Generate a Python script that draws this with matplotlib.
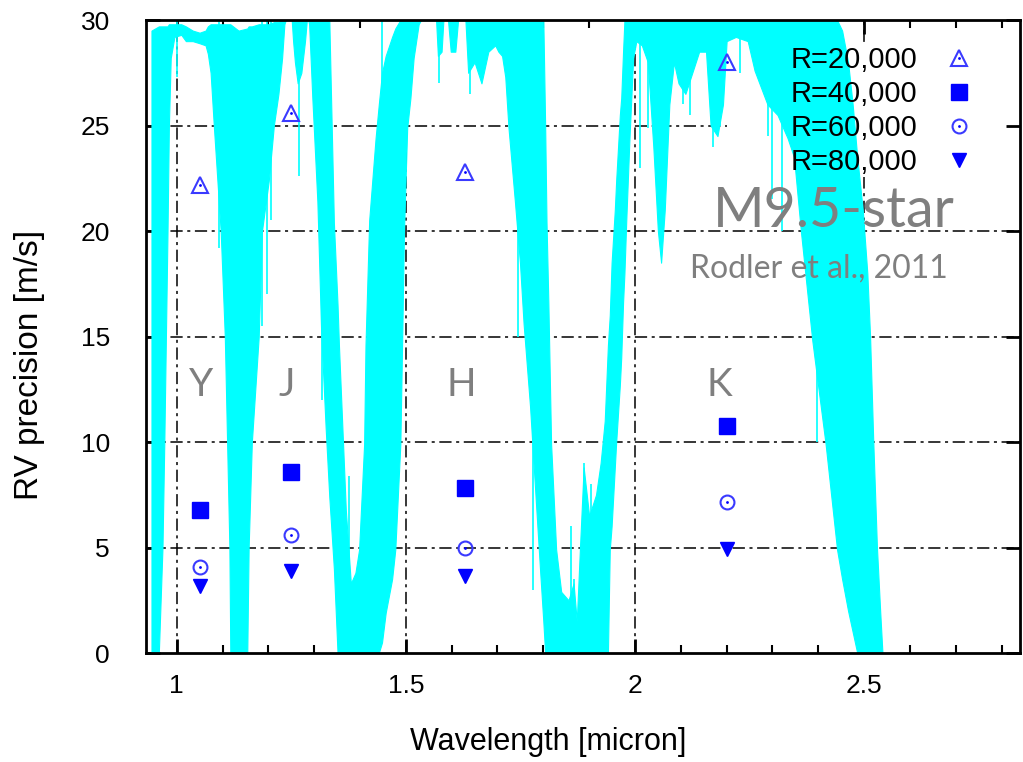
import numpy as np
import matplotlib
matplotlib.use("Agg")
import matplotlib.pyplot as plt
from matplotlib.patches import Rectangle
from matplotlib.ticker import MultipleLocator

plt.rcParams["font.family"] = ["Liberation Sans", "DejaVu Sans"]

# ---------------- datos ----------------
# bandas fotometricas y precision RV [m/s] para cada resolucion
banda_x = [1.05, 1.25, 1.63, 2.20]
rv_r20 = [22.2, 25.6, 22.8, 28.0]
rv_r40 = [6.8, 8.6, 7.8, 10.75]
rv_r60 = [4.1, 5.6, 5.0, 7.15]
rv_r80 = [3.2, 3.9, 3.65, 4.95]

bandas = ["Y", "J", "H", "K"]
bandas_pos = [1.054, 1.239, 1.622, 2.185]

# espectro telurico (escalado a 0-30): envolvente inferior / superior
tel_wl = [0.945, 0.961, 0.969, 0.973, 0.980, 0.983, 0.987, 0.995, 1.010, 1.020,
          1.035, 1.050, 1.063, 1.068, 1.074, 1.081, 1.090, 1.096, 1.105, 1.110,
          1.115, 1.117, 1.135, 1.154, 1.157, 1.164, 1.179, 1.186, 1.201, 1.212,
          1.222, 1.230, 1.235, 1.238, 1.251, 1.254, 1.258, 1.264, 1.272, 1.280,
          1.284, 1.287, 1.289, 1.296, 1.307, 1.315, 1.325, 1.333, 1.343, 1.351,
          1.354, 1.369, 1.380, 1.390, 1.398, 1.409, 1.412, 1.420, 1.434, 1.441,
          1.448, 1.456, 1.470, 1.477, 1.488, 1.492, 1.496, 1.503, 1.510, 1.517,
          1.528, 1.533, 1.566, 1.570, 1.578, 1.582, 1.592, 1.598, 1.608, 1.614,
          1.630, 1.636, 1.650, 1.665, 1.680, 1.695, 1.702, 1.710, 1.717, 1.724,
          1.738, 1.749, 1.757, 1.771, 1.782, 1.793, 1.800, 1.804, 1.807, 1.811,
          1.817, 1.828, 1.839, 1.855, 1.866, 1.873, 1.880, 1.888, 1.900, 1.915,
          1.925, 1.934, 1.941, 1.945, 1.949, 1.956, 1.959, 1.967, 1.970, 1.974,
          1.977, 1.981, 1.988, 1.996, 2.003, 2.015, 2.028, 2.040, 2.050, 2.057,
          2.065, 2.075, 2.085, 2.095, 2.110, 2.125, 2.140, 2.155, 2.165, 2.180,
          2.192, 2.200, 2.220, 2.246, 2.261, 2.289, 2.311, 2.333, 2.347, 2.362,
          2.387, 2.416, 2.441, 2.452, 2.465, 2.475, 2.485, 2.497, 2.507, 2.513,
          2.520, 2.528, 2.535, 2.540]
tel_lo = [0.0, 0.0, 5.0, 10.0, 20.0, 25.0, 28.2, 29.2, 29.3, 29.0,
          29.0, 28.9, 28.8, 28.4, 27.5, 25.0, 22.0, 20.0, 15.0, 10.0,
          5.0, 0.0, 0.0, 0.0, 5.0, 10.0, 15.0, 20.0, 22.4, 25.0,
          26.5, 28.2, 29.8, 30.0, 30.0, 29.0, 28.0, 27.0, 27.5, 29.0,
          30.0, 30.0, 29.8, 26.3, 21.4, 15.4, 10.7, 7.4, 4.0, 0.0,
          0.0, 0.0, 0.0, 0.0, 0.0, 0.0, 0.0, 0.0, 0.0, 0.0,
          0.5, 1.9, 3.5, 4.9, 9.9, 14.8, 20.0, 24.9, 26.3, 28.2,
          29.8, 30.0, 30.0, 28.3, 28.5, 30.0, 30.0, 28.5, 28.5, 30.0,
          30.0, 27.5, 28.0, 27.0, 28.5, 28.8, 28.5, 28.3, 27.3, 24.9,
          21.4, 18.5, 15.6, 11.7, 7.8, 3.9, 1.5, 0.0, 0.0, 0.0,
          0.0, 0.0, 0.0, 0.0, 0.0, 0.0, 0.0, 0.0, 0.0, 0.0,
          0.0, 0.0, 0.0, 4.9, 6.0, 8.8, 10.0, 12.7, 14.0, 16.6,
          18.0, 20.5, 24.4, 28.2, 29.0, 28.8, 28.0, 24.0, 20.0, 18.5,
          21.0, 26.0, 28.0, 27.0, 26.5, 27.5, 28.5, 28.5, 25.0, 24.5,
          26.0, 29.0, 29.2, 29.0, 27.6, 26.0, 25.5, 24.4, 23.5, 20.0,
          14.8, 9.9, 4.9, 3.5, 2.0, 1.0, 0.0, 0.0, 0.0, 0.0,
          0.0, 0.0, 0.0, 0.0]
tel_hi = [29.5, 29.7, 29.7, 29.7, 29.7, 29.8, 29.8, 29.8, 29.8, 29.7,
          29.5, 29.4, 29.5, 29.7, 29.8, 29.8, 29.8, 29.8, 29.8, 29.8,
          29.8, 29.8, 29.5, 29.6, 29.7, 29.7, 29.8, 29.8, 29.8, 29.9,
          29.9, 30.0, 30.0, 30.0, 30.0, 30.0, 30.0, 30.0, 30.0, 30.0,
          30.0, 30.0, 30.0, 30.0, 30.0, 30.0, 30.0, 30.0, 20.4, 16.5,
          14.6, 6.8, 3.3, 3.8, 4.9, 9.9, 14.6, 20.5, 24.4, 26.0,
          27.5, 28.3, 29.2, 29.6, 30.0, 30.0, 30.0, 30.0, 30.0, 30.0,
          30.0, 30.0, 30.0, 30.0, 30.0, 30.0, 30.0, 30.0, 30.0, 30.0,
          30.0, 30.0, 30.0, 30.0, 30.0, 30.0, 30.0, 30.0, 30.0, 30.0,
          30.0, 30.0, 30.0, 30.0, 30.0, 30.0, 30.0, 25.0, 20.4, 16.6,
          9.9, 4.9, 2.9, 2.5, 3.3, 1.5, 5.0, 8.8, 6.5, 7.5,
          9.0, 11.0, 14.6, 16.0, 18.5, 21.0, 22.4, 25.5, 26.3, 28.5,
          30.0, 30.0, 30.0, 30.0, 30.0, 30.0, 30.0, 30.0, 30.0, 30.0,
          30.0, 30.0, 30.0, 30.0, 30.0, 30.0, 30.0, 30.0, 30.0, 30.0,
          30.0, 30.0, 30.0, 30.0, 30.0, 30.0, 30.0, 30.0, 30.0, 30.0,
          30.0, 30.0, 30.0, 29.5, 28.0, 26.0, 23.5, 21.0, 18.0, 15.0,
          10.0, 5.0, 2.0, 0.0]

# lineas finas aisladas del espectro (x, extremo)
picos_abajo_x = [1.001, 1.093, 1.187, 1.266, 1.449, 1.778, 2.028, 2.105, 2.170, 2.290,
                 2.398, 1.196, 1.205, 1.318, 1.573, 1.640, 1.744, 2.010, 2.120, 2.185,
                 2.230, 2.300, 2.320]
picos_abajo_y = [27.3, 19.2, 15.5, 22.6, 24.5, 3.0, 24.9, 26.0, 24.0, 24.5,
                 10.0, 17.0, 20.5, 12.0, 27.0, 26.5, 15.0, 23.0, 25.5, 25.0,
                 27.5, 21.5, 20.0]
picos_arriba_x = [1.376, 1.866, 1.888, 1.860, 1.905]
picos_arriba_y = [8.4, 3.5, 9.0, 6.0, 8.0]

CIAN = "#00ffff"
AZUL = "#0000ff"
AZUL_CLARO = "#3a3aff"
GRIS = "#7f7f7f"
DASHDOT = (0, (8, 3, 2, 3))

fig = plt.figure(figsize=(10.23, 7.62), dpi=100)
ax = fig.add_axes([0.1427, 0.143, 0.8543, 0.8307])

# grilla
for v in [5, 10, 15, 20, 25]:
    ax.axhline(v, color="k", lw=1.1, ls=DASHDOT, zorder=1)
for v in [1.0, 1.5, 2.0, 2.5]:
    ax.axvline(v, color="k", lw=1.1, ls=DASHDOT, zorder=1)

# fondo opaco de la leyenda (tapa la grilla, no el espectro)
ax.add_patch(Rectangle((0.665, 0.752), 0.335, 0.21, transform=ax.transAxes,
                       facecolor="white", edgecolor="none", zorder=1.5))

# espectro telurico
ax.fill_between(tel_wl, tel_lo, tel_hi, color=CIAN, lw=0.8, edgecolor=CIAN, zorder=2)
ax.vlines(picos_abajo_x, picos_abajo_y, 30, color=CIAN, lw=1.2, zorder=2)
ax.vlines(picos_arriba_x, 0, picos_arriba_y, color=CIAN, lw=1.2, zorder=2)

# puntos
h20 = ax.plot(banda_x, rv_r20, ls="none", marker="^", ms=11, mfc="none",
              mec=AZUL_CLARO, mew=1.5, zorder=4)[0]
d20 = ax.plot(banda_x, rv_r20, ls="none", marker="o", ms=2, mfc=AZUL, mec="none", zorder=4)[0]
h40 = ax.plot(banda_x, rv_r40, ls="none", marker="s", ms=11, mfc=AZUL, mec=AZUL, zorder=4)[0]
h60 = ax.plot(banda_x, rv_r60, ls="none", marker="o", ms=10, mfc="none",
              mec=AZUL_CLARO, mew=1.5, zorder=4)[0]
d60 = ax.plot(banda_x, rv_r60, ls="none", marker="o", ms=2, mfc=AZUL, mec="none", zorder=4)[0]
h80 = ax.plot(banda_x, rv_r80, ls="none", marker="v", ms=10, mfc=AZUL, mec=AZUL, zorder=4)[0]

ax.legend([(h20, d20), h40, (h60, d60), h80],
          ["R=20,000", "R=40,000", "R=60,000", "R=80,000"],
          loc="upper right", bbox_to_anchor=(0.964, 0.977), markerfirst=False,
          frameon=False, fontsize=21, handlelength=1.2, handletextpad=0.85,
          labelspacing=0.2, borderaxespad=0)

# textos
for nombre, xb in zip(bandas, bandas_pos):
    ax.text(xb, 12.2, nombre, fontsize=28, color=GRIS, family="Lato",
            ha="center", va="baseline", zorder=5)
ax.text(2.433, 20.2, "M9.5-star", fontsize=40, color=GRIS, family="Lato",
        ha="center", va="baseline", zorder=5)
ax.text(2.402, 17.8, "Rodler et al., 2011", fontsize=23, color=GRIS, family="Lato",
        ha="center", va="baseline", zorder=5)

# ejes
ax.set_xlim(0.933, 2.84)
ax.set_ylim(0, 30)
ax.set_xticks([1, 1.5, 2, 2.5])
ax.set_xticklabels(["1", "1.5", "2", "2.5"])
ax.set_yticks([0, 5, 10, 15, 20, 25, 30])
ax.xaxis.set_minor_locator(MultipleLocator(0.1))
ax.tick_params(which="major", direction="in", length=10, width=2, top=True, right=True,
               labelsize=19)
ax.tick_params(which="minor", direction="in", length=6, width=1.5, top=True, right=True)
ax.tick_params(axis="x", pad=15)
ax.tick_params(axis="y", pad=26)
for s in ax.spines.values():
    s.set_linewidth(2)

ax.set_xlabel("Wavelength [micron]", fontsize=22, va="center")
ax.set_ylabel("RV precision [m/s]", fontsize=24, va="center")
ax.xaxis.set_label_coords(0.46, -0.14)
ax.yaxis.set_label_coords(-0.133, 0.455)

fig.savefig("out.png", dpi=100)
